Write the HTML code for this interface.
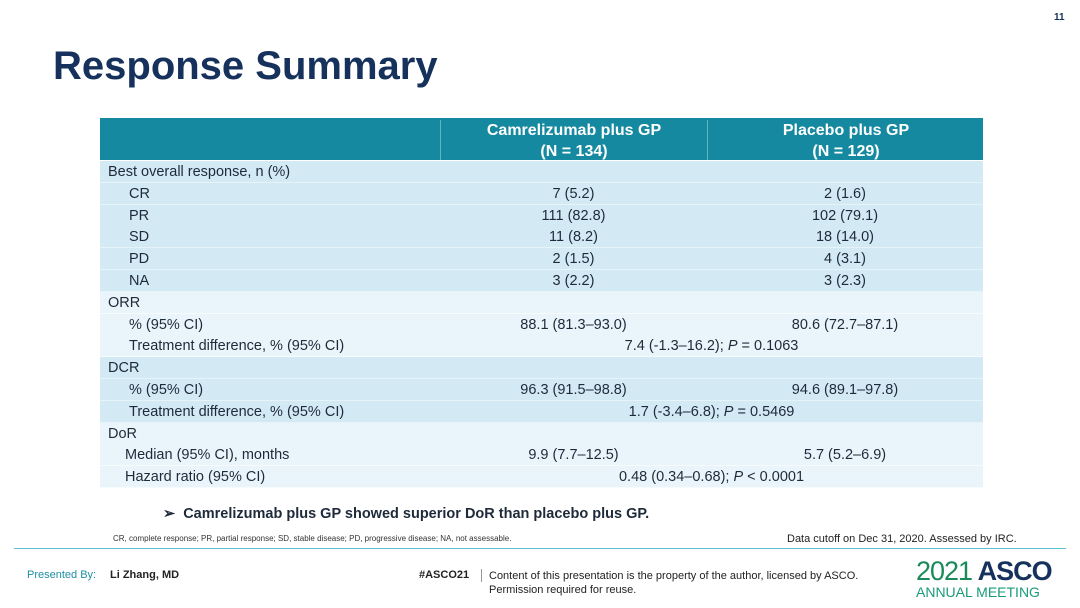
<!DOCTYPE html>
<html><head><meta charset="utf-8"><style>
body{margin:0;width:1080px;height:608px;background:#fff;font-family:"Liberation Sans",sans-serif;position:relative;overflow:hidden}
.a{position:absolute}
.row{position:absolute;left:100px;width:883px;height:21px;font-size:14.5px;color:#1e2a3a;line-height:23px}
.row .l{position:absolute;left:8px}
.row .c1{position:absolute;left:340px;width:267px;text-align:center}
.row .c2{position:absolute;left:607px;width:276px;text-align:center}
.row .cs{position:absolute;left:340px;width:543px;text-align:center}
.d{background:#d3e9f4;border-bottom:1px solid #e6f3f9}
.lt{background:#eaf5fb;border-bottom:1px solid #f6fbfd}
</style></head><body>
<div class="a" style="left:1054px;top:12px;font-size:10px;color:#16325c;font-weight:bold">11</div>
<div class="a" style="left:53px;top:44px;font-size:40px;font-weight:bold;color:#16325c">Response Summary</div>
<div class="a" style="left:100px;top:118px;width:883px;height:42px;background:#1589a0;color:#fff;font-weight:bold;font-size:16px">
 <div class="a" style="left:340px;width:266px;top:2px;text-align:center;line-height:21px;border-left:1px solid #5fb4c4;height:40px">Camrelizumab plus GP<br>(N = 134)</div>
 <div class="a" style="left:607px;width:276px;top:2px;text-align:center;line-height:21px;border-left:1px solid #5fb4c4;height:40px">Placebo plus GP<br>(N = 129)</div>
</div>
<div id="tbl"></div>
<div class="a" style="left:163px;top:506px;font-size:14.5px;font-weight:bold;color:#1e2a3a">➢&nbsp; Camrelizumab plus GP showed superior DoR than placebo plus GP.</div>
<div class="a" style="left:113px;top:534px;font-size:8px;color:#333">CR, complete response; PR, partial response; SD, stable disease; PD, progressive disease; NA, not assessable.</div>
<div class="a" style="left:787px;top:533px;font-size:11px;color:#222">Data cutoff on Dec 31, 2020. Assessed by IRC.</div>
<div class="a" style="left:14px;top:548px;width:1052px;height:1px;background:#5bbfcf"></div>
<div class="a" style="left:27px;top:569px;font-size:11px;color:#1d8ea3">Presented By:</div>
<div class="a" style="left:110px;top:569px;font-size:11px;font-weight:bold;color:#222">Li Zhang, MD</div>
<div class="a" style="left:419px;top:569px;font-size:11px;font-weight:bold;color:#222">#ASCO21</div>
<div class="a" style="left:481px;top:569px;width:1px;height:13px;background:#999"></div>
<div class="a" style="left:489px;top:569px;font-size:11px;color:#222;line-height:14px">Content of this presentation is the property of the author, licensed by ASCO.<br>Permission required for reuse.</div>
<div class="a" style="left:916px;top:557px;font-size:27px;line-height:28px;color:#16325c;font-weight:bold;letter-spacing:-1px"><span style="color:#1a8a5a;font-weight:normal">2021</span> ASCO</div>
<div class="a" style="left:916px;top:584px;font-size:14px;color:#1a9a7a">ANNUAL MEETING</div>
<script>
const labels=["Best overall response, n (%)","CR","PR","SD","PD","NA","ORR","% (95% CI)","Treatment difference, % (95% CI)","DCR","% (95% CI)","Treatment difference, % (95% CI)","DoR","Median (95% CI), months","Hazard ratio (95% CI)"];
const indent=[0,1,1,1,1,1,0,1,1,0,1,1,0,1,1];
const camr=["","7 (5.2)","111 (82.8)","11 (8.2)","2 (1.5)","3 (2.2)","","88.1 (81.3–93.0)","","","96.3 (91.5–98.8)","","","9.9 (7.7–12.5)",""];
const plac=["","2 (1.6)","102 (79.1)","18 (14.0)","4 (3.1)","3 (2.3)","","80.6 (72.7–87.1)","","","94.6 (89.1–97.8)","","","5.7 (5.2–6.9)",""];
const span=["","","","","","","","","7.4 (-1.3–16.2); <i>P</i> = 0.1063","","","1.7 (-3.4–6.8); <i>P</i> = 0.5469","","","0.48 (0.34–0.68); <i>P</i> &lt; 0.0001"];
const shade=["d","d","d","d","d","d","lt","lt","lt","d","d","d","lt","lt","lt"];
const t=document.getElementById('tbl');
labels.forEach((l,i)=>{
 const r=document.createElement('div');
 r.className='row '+shade[i];
 
 
 r.style.top=(161+i*21.8)+'px';
 const ind=indent[i]?(i>=13?25:29):8;
 let h='<div class="l" style="left:'+ind+'px">'+l+'</div>';
 if(camr[i])h+='<div class="c1">'+camr[i]+'</div>';
 if(plac[i])h+='<div class="c2">'+plac[i]+'</div>';
 if(span[i])h+='<div class="cs">'+span[i]+'</div>';
 r.innerHTML=h;
 t.appendChild(r);
});
</script>
</body></html>
